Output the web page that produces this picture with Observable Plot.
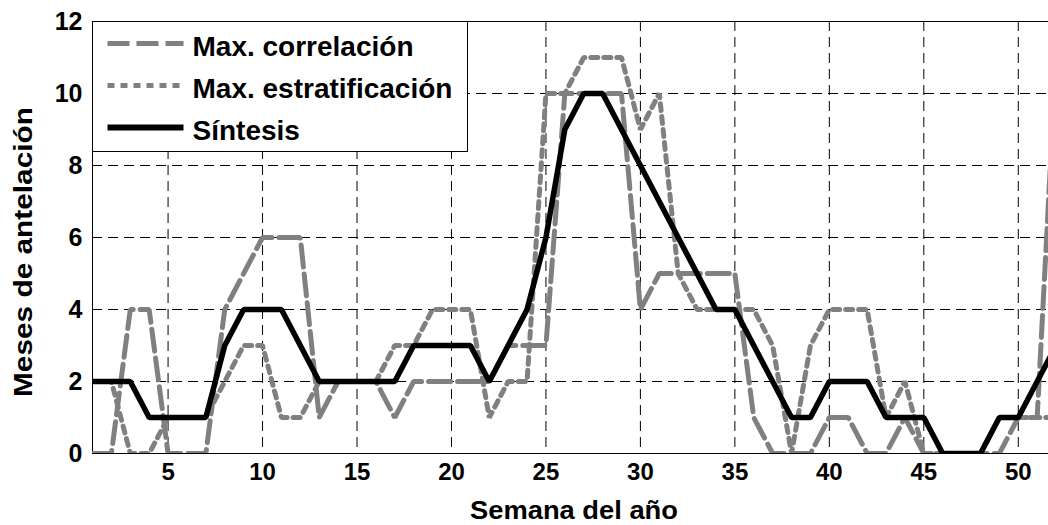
<!DOCTYPE html>
<html><head><meta charset="utf-8">
<script src="https://cdn.jsdelivr.net/npm/d3@7"></script>
<script src="https://cdn.jsdelivr.net/npm/@observablehq/plot@0.6"></script>
<style>
body{margin:0;background:#fff;}
#chart{position:relative;width:1048px;height:525px;overflow:hidden;}
</style>
</head><body><div id="chart"></div>
<script>
const weeks = d3.range(1, 53);
const correlacion = [0,0,4,4,0,0,0,4,5,6,6,6,1,2,2,2,1,2,2,2,2,2,3,3,3,10,10,10,10,4,5,5,5,5,5,1,0,0,0,1,1,0,0,1,0,0,0,0,0,1,1,11];
const estratificacion = [2,2,0,0,1,1,1,2,3,3,1,1,2,2,2,2,3,3,4,4,4,1,2,2,10,10,11,11,11,9,10,5,4,4,4,4,3,0,3,4,4,4,1,2,0,0,0,0,1,1,1,1];
const sintesis = [2,2,2,1,1,1,1,3,4,4,4,3,2,2,2,2,2,3,3,3,3,2,3,4,6,9,10,10,9,8,7,6,5,4,4,3,2,1,1,2,2,2,1,1,1,0,0,0,1,1,2,3];
const xTicks = [5,10,15,20,25,30,35,40,45,50];
const yTicks = [0,2,4,6,8,10,12];
const seriesNames = ["Max. correlación","Max. estratificación","Síntesis"];
const seriesColors = ["#808080","#808080","#000000"];
const seriesDash = ["22,7","7,6",null];
const xLabel = "Semana del año";
const yLabel = "Meses de antelación";

const rows = weeks.map((w,i)=>({w, c: correlacion[i], e: estratificacion[i], s: sintesis[i]}));
const font = "'Liberation Sans', Arial, Helvetica, sans-serif";

const plot = Plot.plot({
  width:1048, height:525, marginLeft:92, marginRight:0, marginTop:21, marginBottom:72,
  style:{fontFamily: font, fontWeight:"bold", fontSize:"25px", background:"#fff", color:"#000"},
  x:{domain:[1,51.6]},
  y:{domain:[0,12]},
  marks:[
    Plot.gridX(xTicks,{stroke:"#000", strokeOpacity:1, strokeDasharray:"10,6", strokeWidth:1}),
    Plot.gridY(yTicks.filter(d=>d>0 && d<12),{stroke:"#000", strokeOpacity:1, strokeDasharray:"10,6", strokeWidth:1}),
    Plot.ruleY([0,12],{stroke:"#000", strokeWidth:1}),
    Plot.ruleX([1],{stroke:"#000", strokeWidth:1}),
    Plot.lineY(rows,{x:"w", y:"c", stroke:seriesColors[0], strokeWidth:5, strokeDasharray:seriesDash[0], strokeLinejoin:"miter", clip:true}),
    Plot.lineY(rows,{x:"w", y:"e", stroke:seriesColors[1], strokeWidth:5, strokeDasharray:seriesDash[1], strokeLinejoin:"miter", clip:true}),
    Plot.lineY(rows,{x:"w", y:"s", stroke:seriesColors[2], strokeWidth:5.5, strokeLinejoin:"miter", clip:true}),
    Plot.axisX(xTicks,{tickSize:0, tickPadding:9, label:null, fontSize:24}),
    Plot.axisY(yTicks,{tickSize:0, tickPadding:10, label:null, fontSize:25})
  ]
});

const svg = d3.select(plot);
// axis labels
svg.append("text")
  .attr("transform","translate(23,252) rotate(-90)")
  .attr("text-anchor","middle").attr("dominant-baseline","central")
  .attr("font-size",25).attr("font-weight","bold").attr("font-family",font)
  .attr("textLength",290).attr("lengthAdjust","spacingAndGlyphs")
  .text(yLabel);
svg.append("text")
  .attr("x",574).attr("y",519)
  .attr("text-anchor","middle")
  .attr("font-size",26).attr("font-weight","bold").attr("font-family",font)
  .attr("textLength",208).attr("lengthAdjust","spacingAndGlyphs")
  .text(xLabel);

// legend box inside the plot area
const lg = svg.append("g").attr("transform","translate(92.5,21.5)");
lg.append("rect").attr("width",375).attr("height",130).attr("fill","#fff").attr("stroke","#000").attr("stroke-width",1);
seriesNames.forEach((name,i)=>{
  const cy = 22 + i*42;
  lg.append("line").attr("x1",15).attr("x2",91).attr("y1",cy).attr("y2",cy)
    .attr("stroke",seriesColors[i]).attr("stroke-width", i===2?6:5)
    .attr("stroke-dasharray",seriesDash[i]);
  lg.append("text").attr("x",100).attr("y",cy+12)
    .attr("text-anchor","start")
    .attr("font-size",28).attr("font-weight","bold").attr("font-family",font)
    .text(name);
});

document.getElementById("chart").appendChild(plot);
</script>
</body></html>
